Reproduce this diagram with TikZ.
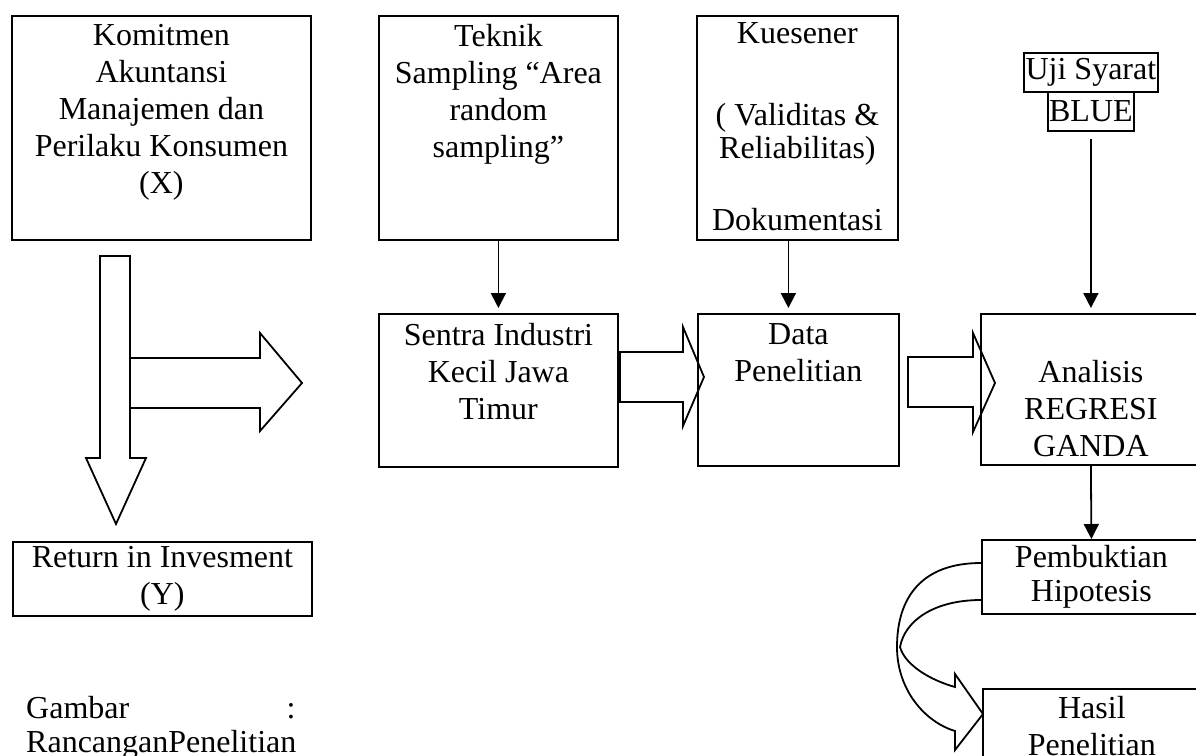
\documentclass[tikz,border=0pt]{standalone}
\usepackage{fontspec}
\setmainfont{Liberation Serif}
\usetikzlibrary{arrows.meta}
\usetikzlibrary{positioning}
\tikzset{box/.style = {draw, line width = 1.8pt, inner sep = 0, anchor = north west, align = center, font = \fontsize{32}{37}\selectfont}}
\tikzset{txt/.style = {align = center, inner sep = 0, anchor = north, font = \fontsize{32}{37}\selectfont}}
\tikzset{plain/.style = {inner sep = 0, font = \fontsize{32}{37}\selectfont}}
\tikzset{arr/.style = {line width = 1.8pt, -{Triangle[width = 15pt, length = 15pt]}}}
\tikzset{fat/.style = {line width = 1.8pt, line join = miter}}

\begin{document}
\begin{tikzpicture}[x = 1pt, y = -1pt]
       \useasboundingbox (0, 0) rectangle (1196, 755);

       % top row
       \node [box, minimum width = 299, minimum height = 224] (komit) at (11, 15) {};
       \node [txt] (komitT) at ([yshift = -9.5pt] komit.north) {Komitmen\\ Akuntansi\\ Manajemen dan\\ Perilaku Konsumen\\ (X)};

       \node [box, minimum width = 239, minimum height = 224] (teknik) at (378, 15) {};
       \node [txt] (teknikT) at ([yshift = -9pt] teknik.north) {Teknik\\ Sampling ``Area\\ random\\ sampling''};

       \node [box, minimum width = 201, minimum height = 224] (kues) at (696, 15) {};
       \node [txt] (kuesT) at ([yshift = -7pt] kues.north) {Kuesener\\[45pt] ( Validitas \&\\[-4pt] Reliabilitas)\\[35pt] Dokumentasi};

       \node [box, minimum width = 134, minimum height = 39] (uji) at (1023, 52) {Uji Syarat};
       \node [box, minimum width = 86, minimum height = 39] (blue) at (1047, 91) {BLUE};

       % middle row
       \node [box, minimum width = 239, minimum height = 153] (sentra) at (378, 313) {};
       \node [txt] (sentraT) at ([yshift = -10pt] sentra.north) {Sentra Industri\\ Kecil Jawa\\ Timur};

       \node [box, minimum width = 201, minimum height = 152] (data) at (697, 313) {};
       \node [txt] (dataT) at ([yshift = -10pt] data.north) {Data\\ Penelitian};

       \node [box, minimum width = 220, minimum height = 151] (anal) at (980, 313) {};
       \node [txt] (analT) at ([yshift = -47pt] anal.north) {Analisis\\ REGRESI\\ GANDA};

       % bottom
       \node [box, minimum width = 299, minimum height = 74] (ret) at (12, 541) {Return in Invesment\\ (Y)};
       \node [box, minimum width = 219, minimum height = 74] (pemb) at (981, 539) {Pembuktian\\[-3pt] Hipotesis};
       \node [box, minimum width = 218, minimum height = 74] (hasil) at (982, 688) {Hasil\\ Penelitian};

       \node [plain, anchor = base west] (gambar) at (26, 718) {Gambar};
       \node [plain, anchor = base] (colon) at (291, 718) {:};
       \node [plain, anchor = base west] (rancang) at (26, 752) {RancanganPenelitian};

       % thin arrows
       \draw [arr, shorten > = 5pt] (teknik.south) -- (sentra.north);
       \draw [arr, shorten > = 5pt] ([xshift = -9pt] kues.south) -- ([xshift = -9pt] kues.south |- data.north);
       \draw [arr, shorten < = 7pt, shorten > = 5pt] (blue.south) -- (anal.north);
       \draw [arr] (anal.south) -- (pemb.north);

       % block arrows
       \draw [fat, fill = white] (100, 256) -- (130, 256) -- (130, 458) -- (146, 458) -- (116, 524) -- (86, 458) -- (100, 458) -- cycle;
       \draw [fat, fill = white] (130, 358) -- (260, 358) -- (260, 333) -- (302, 383) -- (260, 431) -- (260, 408) -- (130, 408) -- cycle;
       \draw [fat] (620, 352) -- (683, 352) -- (683, 327) -- (704, 377) -- (683, 426) -- (683, 402) -- (620, 402) -- cycle;
       \draw [fat] (908, 357) -- (973, 357) -- (973, 333) -- (995, 383) -- (973, 432) -- (973, 407) -- (908, 407) -- cycle;

       \draw [fat] (981, 563) .. controls (922, 563) and (897, 597) .. (897, 647) .. controls (897, 690) and (925, 722) .. (955, 731) -- (955, 750) -- (983, 714) -- (955, 674) -- (955, 687) .. controls (930, 680) and (905, 665) .. (900, 647) .. controls (905, 620) and (935, 600) .. (981, 600);
    \end{tikzpicture}
\end{document}
